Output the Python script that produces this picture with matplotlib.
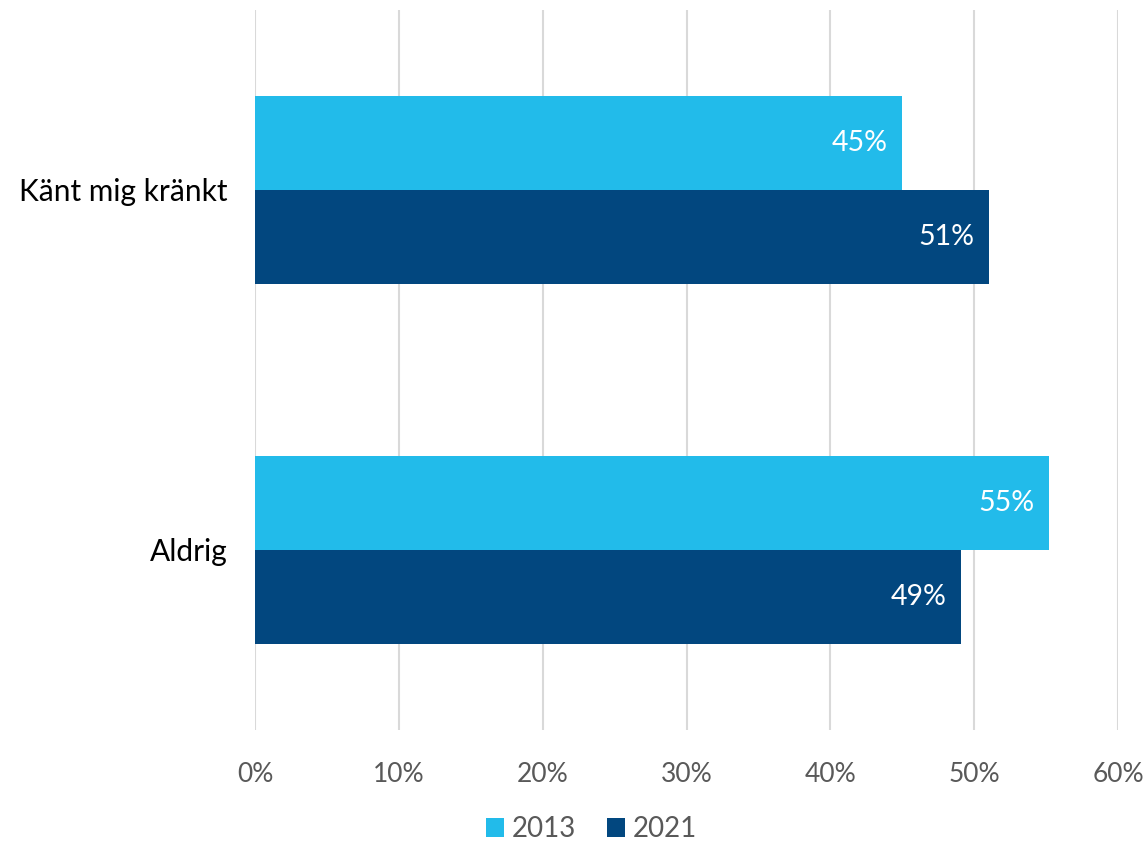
import matplotlib
matplotlib.use('Agg')
import matplotlib.pyplot as plt
import matplotlib.ticker as ticker
import numpy as np

categories = ['Aldrig', 'Känt mig kränkt']
years = ['2013', '2021']
values_2013 = [55.2, 45.0]
values_2021 = [49.1, 51.0]
xticks = [0, 10, 20, 30, 40, 50, 60]

colors = {'2013': '#22BBEA', '2021': '#02477F'}

plt.rcParams['font.family'] = ['Lato', 'DejaVu Sans']

fig = plt.figure(figsize=(11.48, 8.43), dpi=100)
ax = fig.add_axes([255 / 1148, 113 / 843, 863 / 1148, 720 / 843])

y = np.arange(len(categories))
h = 0.261
b1 = ax.barh(y + h / 2, values_2013, height=h, color=colors['2013'], label='2013', zorder=3)
b2 = ax.barh(y - h / 2, values_2021, height=h, color=colors['2021'], label='2021', zorder=3)

# etiketter inne i staplarna
for bars, vals in ((b1, values_2013), (b2, values_2021)):
    for bar, v in zip(bars, vals):
        ax.text(bar.get_width() - 1.0, bar.get_y() + bar.get_height() / 2,
                f'{round(v):.0f}%', ha='right', va='center', color='white', fontsize=20.5, zorder=4)

ax.set_xlim(0, 60)
ax.set_ylim(-0.5, 1.5)
ax.set_xticks(xticks)
ax.xaxis.set_major_formatter(ticker.FuncFormatter(lambda v, p: f'{v:.0f}%'))
ax.set_yticks(y)
ax.set_yticklabels(categories)

ax.grid(axis='x', color='#D9D9D9', linewidth=1.5, zorder=0)
for s in ax.spines.values():
    s.set_visible(False)
ax.tick_params(axis='x', length=0, labelsize=19, labelcolor='#595959', pad=23)
ax.tick_params(axis='y', length=0, labelsize=21.5, labelcolor='black', pad=20)

ax.legend(loc='center', bbox_to_anchor=(0.39, -0.138), ncol=2, frameon=False, borderpad=0.05,
          fontsize=20, handlelength=0.65, handleheight=0.65, handletextpad=0.3, columnspacing=1.1,
          labelcolor='#595959')

fig.savefig('out.png', dpi=100, facecolor='white')
